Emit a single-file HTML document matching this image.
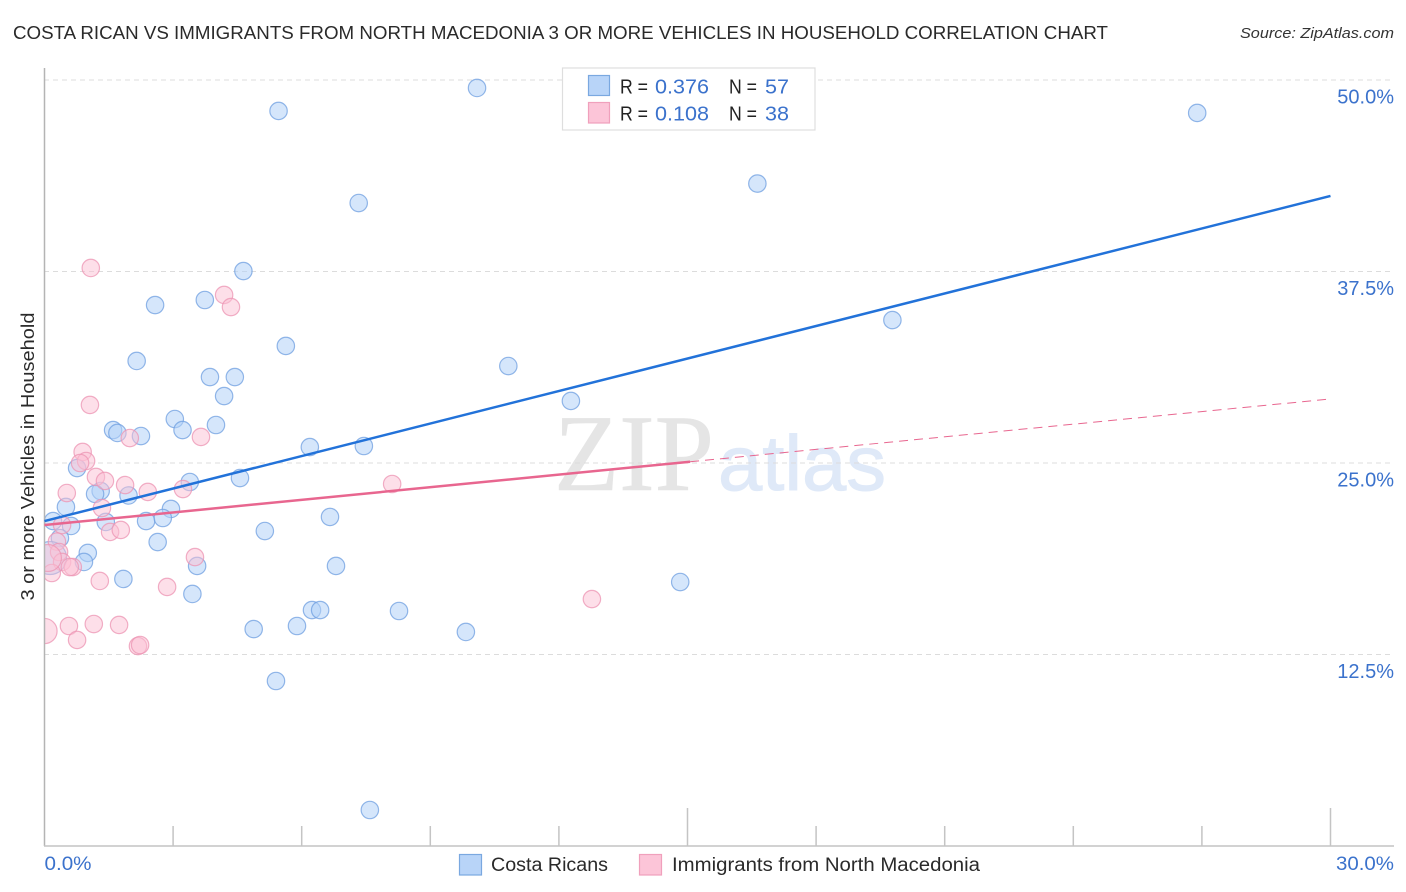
<!DOCTYPE html>
<html lang="en">
<head>
<meta charset="utf-8">
<title>Costa Rican vs Immigrants from North Macedonia correlation chart</title>
<style>
  html, body { margin: 0; padding: 0; background: #fff; width: 1406px; height: 892px; overflow: hidden; }
  svg { display: block; font-family: "Liberation Sans", sans-serif; }
</style>
</head>
<body>
<svg id="chart" xmlns="http://www.w3.org/2000/svg" width="1406" height="892" viewBox="0 0 1406 892">
  <rect x="0" y="0" width="1406" height="892" fill="#ffffff"/>
  <text x="13" y="39" font-size="18.5" fill="#2a2a2a" textLength="1095" lengthAdjust="spacingAndGlyphs">COSTA RICAN VS IMMIGRANTS FROM NORTH MACEDONIA 3 OR MORE VEHICLES IN HOUSEHOLD CORRELATION CHART</text>
  <text x="1394" y="38" font-size="15" font-style="italic" fill="#333" text-anchor="end" textLength="154" lengthAdjust="spacingAndGlyphs">Source: ZipAtlas.com</text>
  <g id="watermark">
    <text x="554" y="490" font-family="'Liberation Serif', serif" font-size="109" fill="#e5e5e5" stroke="#e5e5e5" stroke-width="0.6" textLength="160" lengthAdjust="spacingAndGlyphs">ZIP</text>
    <text x="718" y="490" font-size="78" fill="#dfe9f8" stroke="#dfe9f8" stroke-width="1" textLength="168" lengthAdjust="spacingAndGlyphs">atlas</text>
  </g>
  <g id="grid"></g>
  <g id="points"></g>
  <rect x="0" y="60" width="44" height="786" fill="#ffffff"/>
  <g id="axes"></g>
  <g id="trends"></g>
  <g id="ylabels"></g>
  <text transform="translate(34,456.5) rotate(-90)" font-size="18.5" fill="#2a2a2a" text-anchor="middle" textLength="288" lengthAdjust="spacingAndGlyphs">3 or more Vehicles in Household</text>

  <g>
    <rect x="562.5" y="68" width="252.5" height="62" fill="#ffffff" stroke="#dedede" stroke-width="1.2"/>
    <rect x="588.5" y="75.5" width="21" height="20" fill="#b8d4f8" stroke="#7aa8e0" stroke-width="1.2"/>
    <rect x="588.5" y="102.5" width="21" height="20.5" fill="#fcc5d8" stroke="#f0a0bc" stroke-width="1.2"/>
    <text x="620" y="93.5" font-size="20" fill="#222" textLength="28" lengthAdjust="spacingAndGlyphs">R =</text>
    <text x="655" y="93.5" font-size="20.5" fill="#3b72cc" textLength="54" lengthAdjust="spacingAndGlyphs">0.376</text>
    <text x="729" y="93.5" font-size="20" fill="#222" textLength="28" lengthAdjust="spacingAndGlyphs">N =</text>
    <text x="765" y="93.5" font-size="20.5" fill="#3b72cc" textLength="24" lengthAdjust="spacingAndGlyphs">57</text>
    <text x="620" y="120.5" font-size="20" fill="#222" textLength="28" lengthAdjust="spacingAndGlyphs">R =</text>
    <text x="655" y="120.5" font-size="20.5" fill="#3b72cc" textLength="54" lengthAdjust="spacingAndGlyphs">0.108</text>
    <text x="729" y="120.5" font-size="20" fill="#222" textLength="28" lengthAdjust="spacingAndGlyphs">N =</text>
    <text x="765" y="120.5" font-size="20.5" fill="#3b72cc" textLength="24" lengthAdjust="spacingAndGlyphs">38</text>
  </g>

  <text x="44.5" y="870" font-size="19" fill="#3b72cc" textLength="47" lengthAdjust="spacingAndGlyphs">0.0%</text>
  <text x="1394" y="870" font-size="19" fill="#3b72cc" text-anchor="end" textLength="58" lengthAdjust="spacingAndGlyphs">30.0%</text>

  <g>
    <rect x="459.5" y="854.5" width="22" height="20.5" fill="#b8d4f8" stroke="#7aa8e0" stroke-width="1.2"/>
    <text x="491" y="871" font-size="19" fill="#2a2a2a" textLength="117" lengthAdjust="spacingAndGlyphs">Costa Ricans</text>
    <rect x="639.5" y="854.5" width="22" height="20.5" fill="#fcc5d8" stroke="#f0a0bc" stroke-width="1.2"/>
    <text x="672" y="871" font-size="19" fill="#2a2a2a" textLength="308" lengthAdjust="spacingAndGlyphs">Immigrants from North Macedonia</text>
  </g>
</svg>
<script>
// Chart data (percent values)
const yTickValues = [50, 37.5, 25, 12.5];
const yTickLabels = ["50.0%", "37.5%", "25.0%", "12.5%"];
const xTickValues = [3, 6, 9, 12, 15, 18, 21, 24, 27, 30];
const xMajorTicks = [15, 30];

const costaRicansX = [5.46,10.09,26.89,16.63,7.33,4.64,2.58,3.74,19.78,5.63,2.15,10.82,3.86,4.44,4.19,12.28,3.04,4.0,3.22,1.60,1.70,2.25,6.19,7.45,0.76,4.56,3.39,1.31,1.18,1.96,0.50,2.95,2.37,2.76,6.66,1.43,0.20,0.62,5.14,0.36,2.64,0.13,1.01,0.92,1.84,3.56,3.45,4.88,6.80,6.24,6.43,8.27,5.89,9.83,5.40,7.59,14.83];
const costaRicansY = [47.98,49.48,47.85,43.24,41.97,37.53,35.31,35.64,34.33,32.64,31.66,31.33,30.61,30.61,29.37,29.05,27.87,27.48,27.15,27.15,26.96,26.76,26.04,26.11,24.67,24.02,23.76,23.17,22.98,22.88,22.13,22.0,21.21,21.41,21.48,21.15,21.21,20.89,20.56,20.10,19.84,18.80,19.13,18.54,17.43,18.28,16.45,14.16,18.28,15.40,15.40,15.34,14.36,13.97,10.77,2.35,17.23];
const costaRicansWeight = [1,1,1,1,1,1,1,1,1,1,1,1,1,1,1,1,1,1,1,1,1,1,1,1,1,1,1,1,1,1,1,1,1,1,1,1,1,1,1,1,1,3.6,1,1,1,1,1,1,1,1,1,1,1,1,1,1,1];

const macedoniaX = [0.89,0.97,0.83,1.20,1.41,1.88,0.52,2.41,3.23,1.99,3.65,1.34,0.41,1.53,1.78,0.29,0.34,0.41,0.66,0.59,0.17,0.08,1.29,2.86,3.51,0,0.57,1.15,1.74,0.76,2.18,2.23,1.08,4.19,4.35,1.06,8.11,12.77];
const macedoniaY = [25.72,25.13,25.00,24.09,23.83,23.56,23.04,23.11,23.30,26.63,26.70,22.06,20.95,20.50,20.63,19.87,19.19,18.54,18.21,18.21,17.82,18.80,17.30,16.91,18.86,14.03,14.36,14.49,14.43,13.45,13.05,13.12,37.73,35.97,35.18,28.79,23.63,16.12];
const macedoniaWeight = [1,1,1,1,1,1,1,1,1,1,1,1,1,1,1,1,1,1,1,1,1,2.4,1,1,1,2.1,1,1,1,1,1,1,1,1,1,1,1,1];

const costaRicansTrend = [21.21, 42.43];
const macedoniaTrend = [20.95, 29.18];
const trendXRange = [0, 30];
const macedoniaSolidEndX = 15.06;

// Axis functions
function xScale(v) { return 44.5 + v * (1286 / 30); }
function yScale(v) { return 846 - v * (766 / 50); }
function rScale(w) { return 8.7 * Math.sqrt(w); }
function trendAt(trend, x) {
  return trend[0] + (trend[1] - trend[0]) * (x - trendXRange[0]) / (trendXRange[1] - trendXRange[0]);
}

const SVG_NS = "http://www.w3.org/2000/svg";
function make(tag, attrs, parent) {
  const el = document.createElementNS(SVG_NS, tag);
  for (const k in attrs) el.setAttribute(k, attrs[k]);
  parent.appendChild(el);
  return el;
}

const gridG = document.getElementById("grid");
const axesG = document.getElementById("axes");
const pointsG = document.getElementById("points");
const trendsG = document.getElementById("trends");
const ylabelsG = document.getElementById("ylabels");

yTickValues.forEach(function (v, i) {
  const line = make("line", { x1: 44, x2: 1394, y1: yScale(v), y2: yScale(v), stroke: "#dcdcdc", "stroke-width": 1, "stroke-dasharray": "5 4" }, gridG);
  
  
  const label = make("text", { x: 1394, y: yScale(v) + 23.5, "font-size": 20, fill: "#3b72cc", "text-anchor": "end" }, ylabelsG);
  
  
  label.textContent = yTickLabels[i];
});

const yAxisLine = make("line", { x1: 44.5, x2: 44.5, y1: 68, y2: 846, stroke: "#b4b4b4", "stroke-width": 1.5 }, axesG);


const xAxisLine = make("line", { x1: 44, x2: 1394, y1: 846, y2: 846, stroke: "#c4c4c4", "stroke-width": 1.5 }, axesG);


xTickValues.forEach(function (v) {
  const top = xMajorTicks.indexOf(v) >= 0 ? 808 : 826;
  const tick = make("line", { x1: xScale(v), x2: xScale(v), y1: top, y2: 846, stroke: "#c4c4c4", "stroke-width": 1.5 }, axesG);
  
  
});

costaRicansX.forEach(function (v, i) {
  const c = make("circle", { cx: xScale(v), cy: yScale(costaRicansY[i]), r: rScale(costaRicansWeight[i]), fill: "#b3d1f7", "fill-opacity": 0.55, stroke: "#6f9fe0", "stroke-opacity": 0.75, "stroke-width": 1.2 }, pointsG);
  
  
});
macedoniaX.forEach(function (v, i) {
  const c = make("circle", { cx: xScale(v), cy: yScale(macedoniaY[i]), r: rScale(macedoniaWeight[i]), fill: "#fcc0d4", "fill-opacity": 0.5, stroke: "#ec94b3", "stroke-opacity": 0.75, "stroke-width": 1.2 }, pointsG);
  
  
});

const blueTrend = make("line", { x1: xScale(trendXRange[0]), y1: yScale(trendAt(costaRicansTrend, trendXRange[0])), x2: xScale(trendXRange[1]), y2: yScale(trendAt(costaRicansTrend, trendXRange[1])), stroke: "#2272d9", "stroke-width": 2.5 }, trendsG);


const pinkTrend = make("line", { x1: xScale(trendXRange[0]), y1: yScale(trendAt(macedoniaTrend, trendXRange[0])), x2: xScale(macedoniaSolidEndX), y2: yScale(trendAt(macedoniaTrend, macedoniaSolidEndX)), stroke: "#e8668f", "stroke-width": 2.5 }, trendsG);


const pinkDash = make("line", { x1: xScale(macedoniaSolidEndX), y1: yScale(trendAt(macedoniaTrend, macedoniaSolidEndX)), x2: xScale(trendXRange[1]), y2: yScale(trendAt(macedoniaTrend, trendXRange[1])), stroke: "#e8668f", "stroke-width": 1, "stroke-dasharray": "9 6" }, trendsG);


</script>
</body>
</html>
